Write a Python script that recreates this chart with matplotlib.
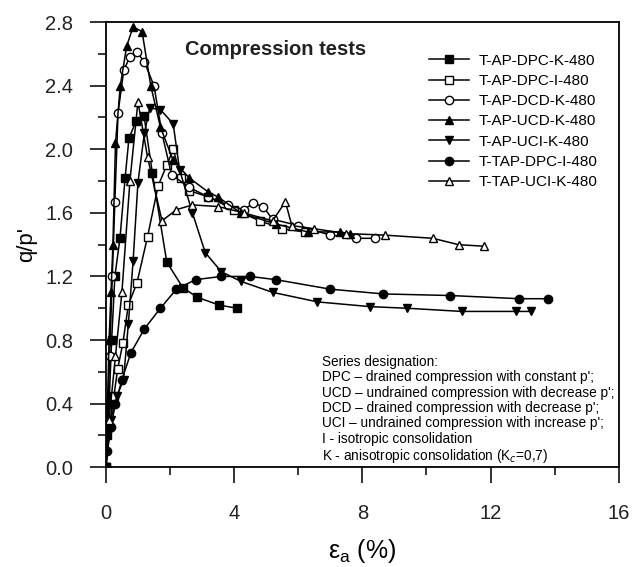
import matplotlib
matplotlib.use('Agg')
import matplotlib.pyplot as plt
from matplotlib.ticker import MultipleLocator, FormatStrFormatter

plt.rcParams['font.family'] = ['Liberation Sans', 'DejaVu Sans']

# q/p' against axial strain
dpc_k_x = [0, 0.05, 0.1, 0.18, 0.28, 0.44, 0.6, 0.72, 0.95, 1.19, 1.45, 1.9, 2.4, 2.84, 3.53, 4.1]
dpc_k_y = [0, 0.2, 0.4, 0.8, 1.2, 1.44, 1.82, 2.07, 2.18, 2.21, 1.85, 1.29, 1.13, 1.07, 1.02, 1.0]

dpc_i_x = [0, 0.1, 0.25, 0.37, 0.53, 0.7, 0.97, 1.3, 1.63, 1.9, 2.1, 2.35, 2.6, 3.2, 4.0, 4.8, 5.5, 6.2]
dpc_i_y = [0, 0.25, 0.45, 0.62, 0.78, 1.02, 1.16, 1.45, 1.77, 1.9, 2.0, 1.82, 1.74, 1.7, 1.62, 1.55, 1.5, 1.48]

dcd_k_x = [0, 0.05, 0.12, 0.2, 0.28, 0.38, 0.56, 0.75, 0.97, 1.2, 1.5, 1.75, 2.05, 2.6, 3.2, 3.8, 4.3, 4.6, 4.9, 5.2, 6.0, 7.0, 7.8, 8.4]
dcd_k_y = [0, 0.3, 0.7, 1.2, 1.67, 2.23, 2.5, 2.58, 2.61, 2.55, 2.4, 2.1, 1.84, 1.76, 1.7, 1.65, 1.62, 1.66, 1.64, 1.56, 1.52, 1.46, 1.44, 1.44]

ucd_k_x = [0, 0.05, 0.1, 0.16, 0.22, 0.3, 0.45, 0.65, 0.85, 1.13, 1.4, 1.7, 2.1, 2.6, 3.2, 3.5, 4.2, 5.3, 6.3, 7.3, 7.6]
ucd_k_y = [0, 0.4, 0.8, 1.1, 1.4, 2.04, 2.4, 2.65, 2.77, 2.74, 2.4, 2.14, 1.93, 1.82, 1.73, 1.7, 1.6, 1.53, 1.48, 1.48, 1.47]

uci_k_x = [0, 0.15, 0.35, 0.55, 0.7, 0.85, 1.0, 1.2, 1.37, 1.7, 2.1, 2.3, 2.7, 3.1, 3.6, 4.2, 5.2, 6.6, 8.25, 9.4, 11.1, 12.8, 13.25]
uci_k_y = [0, 0.3, 0.45, 0.55, 0.9, 1.3, 1.79, 2.1, 2.26, 2.25, 2.16, 1.87, 1.6, 1.35, 1.23, 1.17, 1.1, 1.04, 1.01, 1.0, 0.98, 0.98, 0.98]

tap_dpc_i_x = [0, 0.05, 0.15, 0.3, 0.5, 0.78, 1.2, 1.7, 2.2, 2.8, 3.6, 4.5, 5.3, 7.0, 8.66, 10.75, 12.9, 13.8]
tap_dpc_i_y = [0, 0.1, 0.25, 0.4, 0.55, 0.72, 0.87, 1.0, 1.12, 1.18, 1.2, 1.2, 1.18, 1.12, 1.09, 1.08, 1.06, 1.06]

tap_uci_k_x = [0, 0.1, 0.3, 0.5, 0.75, 1.0, 1.3, 1.75, 2.2, 2.7, 3.5, 4.3, 5.2, 5.6, 5.8, 6.5, 7.5, 8.7, 10.2, 11.0, 11.8]
tap_uci_k_y = [0, 0.3, 0.7, 1.1, 1.8, 2.3, 1.95, 1.55, 1.62, 1.65, 1.64, 1.6, 1.55, 1.67, 1.52, 1.5, 1.47, 1.46, 1.44, 1.4, 1.39]

series = [
    ('T-AP-DPC-K-480', dpc_k_x, dpc_k_y, 's', 'black'),
    ('T-AP-DPC-I-480', dpc_i_x, dpc_i_y, 's', 'white'),
    ('T-AP-DCD-K-480', dcd_k_x, dcd_k_y, 'o', 'white'),
    ('T-AP-UCD-K-480', ucd_k_x, ucd_k_y, '^', 'black'),
    ('T-AP-UCI-K-480', uci_k_x, uci_k_y, 'v', 'black'),
    ('T-TAP-DPC-I-480', tap_dpc_i_x, tap_dpc_i_y, 'o', 'black'),
    ('T-TAP-UCI-K-480', tap_uci_k_x, tap_uci_k_y, '^', 'white'),
]

notes = ("Series designation:\n"
         "DPC \u2013 drained compression with constant p';\n"
         "UCD \u2013 undrained compression with decrease p';\n"
         "DCD \u2013 drained compression with decrease p';\n"
         "UCI \u2013 undrained compression with increase p';\n"
         "I - isotropic consolidation\n"
         "K - anisotropic consolidation (K$_c$=0,7)")

fig = plt.figure(figsize=(6.34, 5.67), dpi=100)
ax = fig.add_axes([0.167, 0.176, 0.809, 0.785])

for label, x, y, m, fc in series:
    ax.plot(x, y, color='black', lw=1.1, marker=m, markersize=6,
            markerfacecolor=fc, markeredgecolor='black', markeredgewidth=1.0, label=label)

ax.set_xlim(0, 16)
ax.set_ylim(0, 2.8)
ax.xaxis.set_major_locator(MultipleLocator(4))
ax.xaxis.set_minor_locator(MultipleLocator(2))
ax.yaxis.set_major_locator(MultipleLocator(0.4))
ax.yaxis.set_minor_locator(MultipleLocator(0.2))
ax.yaxis.set_major_formatter(FormatStrFormatter('%.1f'))
ax.tick_params(which='major', direction='out', length=11.5, width=1.3, labelsize=14.5, colors='#222222')
ax.tick_params(which='minor', direction='out', length=6, width=1.1)
ax.tick_params(axis='x', which='major', pad=15)
ax.tick_params(axis='y', which='major', pad=12)
for sp in ax.spines.values():
    sp.set_linewidth(1.3)

ax.set_xlabel('\u03b5$_\\mathregular{a}$ (%)', fontsize=18, labelpad=10)
ax.set_ylabel("q/p'", fontsize=16, labelpad=6)

ax.text(0.154, 0.939, 'Compression tests', transform=ax.transAxes, fontsize=14.5,
        fontweight='bold', va='center', ha='left', color='#222222')
ax.legend(loc='upper left', bbox_to_anchor=(0.604, 0.96), frameon=False, fontsize=11,
          handlelength=2.6, labelspacing=0.41, handletextpad=0.65, borderpad=0.4)
ax.text(0.421, 0.252, notes, transform=ax.transAxes, fontsize=9.8, va='top', ha='left',
        linespacing=1.12)

fig.savefig('out.png', dpi=100)
